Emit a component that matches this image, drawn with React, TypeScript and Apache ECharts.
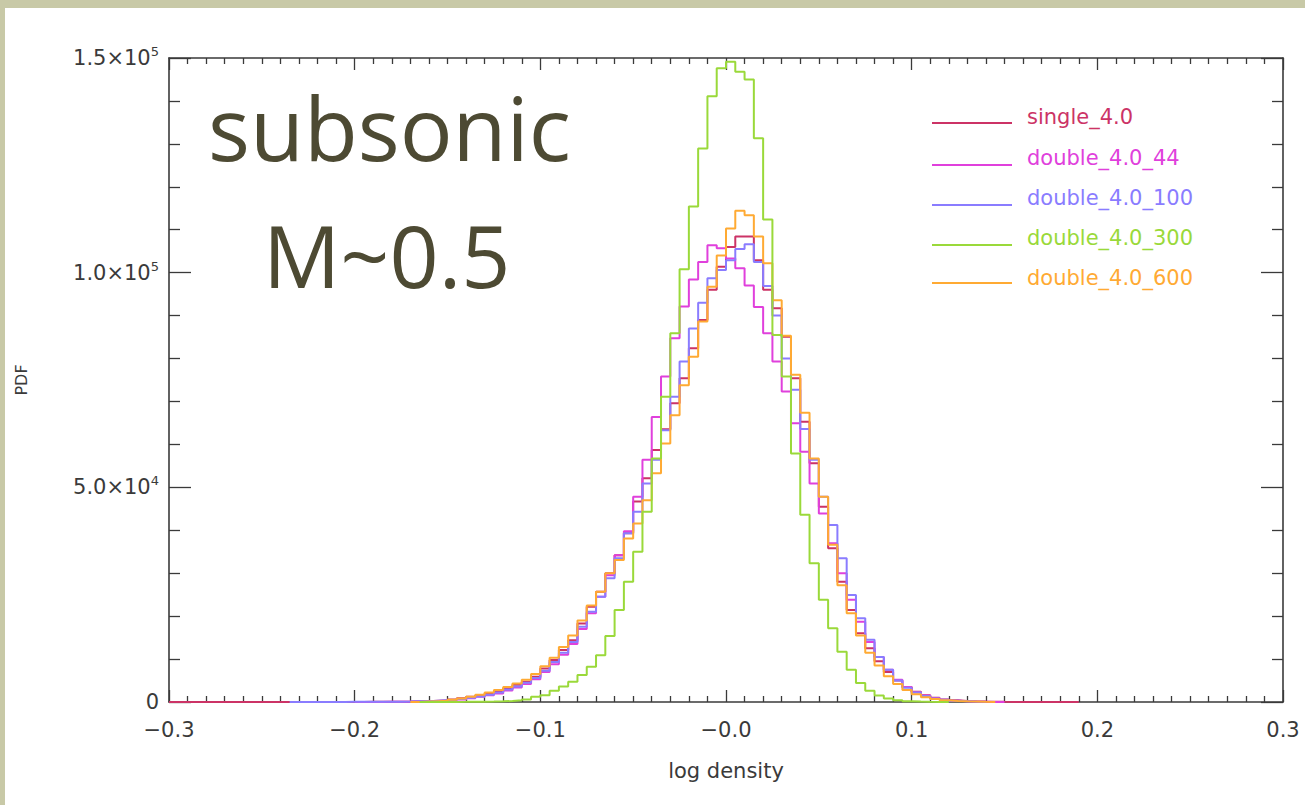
import React, { useEffect, useRef } from "react";
import * as echarts from "echarts";

// Histogram bin width in log density
const BIN_WIDTH = 0.005;

const seriesNames = ["single_4.0", "double_4.0_44", "double_4.0_100", "double_4.0_300", "double_4.0_600"];
const seriesColors = ["#cc3366", "#e040dc", "#8a7cff", "#9ad93a", "#ffaa33"];

// Left edge of first bin and bin values (PDF) for each series
const singleStart = -0.3;
const singleValues = [
  0, 0, 0, 0, 0, 0, 0, 0, 0, 0, 0, 0, 0, 0, 0, 0, 0, 0, 0, 0,
  20, 30, 40, 60, 80, 100, 150, 200, 300, 400, 600, 900, 1200, 1600, 2000, 2400, 3200, 4000, 4700, 5900,
  7800, 9800, 12100, 14400, 18300, 22200, 25700, 30000, 34200, 39300, 46700, 52100, 58700, 63500, 69600, 75400,
  82400, 89000, 96000, 101400, 106000, 108400, 108400, 102900, 96000, 91700, 85100, 75400, 65300, 55600, 45500,
  35800, 28000, 21400, 16000, 12500, 9500, 7000, 5000, 3500, 2400, 1600, 1000, 600, 400, 250, 150, 100, 60,
  30, 20, 10, 10, 0, 0, 0, 0, 0,
];

const d44Start = -0.2;
const d44Values = [
  0, 10, 20, 30, 40, 50, 100, 150, 200, 300, 400, 600, 900, 1200, 1600, 2000, 2700, 3400, 4200, 5300,
  7000, 8800, 11000, 13500, 17000, 20700, 24500, 29500, 34200, 39800, 47800, 56400, 66400, 75800, 84700, 92100,
  98400, 102500, 106400, 105700, 103300, 101000, 97000, 92000, 85900, 79300, 72300, 64900, 58300, 50900, 43900,
  37000, 30000, 23800, 18700, 14000, 10500, 7500, 5200, 3500, 2300, 1500, 900, 500, 300, 150, 100, 50, 0, 0,
];

const d100Start = -0.235;
const d100Values = [
  0, 0, 10, 10, 20, 20, 30, 30, 40, 50, 60, 80, 100, 150, 200, 300, 400, 500, 700, 1000,
  1300, 1700, 2200, 2900, 3600, 4500, 5600, 7300, 9300, 11500, 14000, 17500, 21000, 24500, 28800, 33500,
  39300, 44300, 50900, 56400, 63300, 71100, 79300, 87000, 93000, 98700, 100600, 102900, 105500, 106600, 102500,
  96900, 90000, 80000, 72700, 63600, 56400, 47800, 41200, 33500, 24900, 19500, 14500, 10500, 7500, 5000, 3300,
  2200, 1400, 800, 500, 300, 200, 100, 50,
];

const d300Start = -0.165;
const d300Values = [
  0, 0, 10, 20, 30, 50, 80, 100, 150, 250, 400, 600, 1200, 1600, 2600, 3600, 4700, 6300, 8200, 10900,
  15400, 21400, 28000, 35000, 44300, 56700, 71100, 85900, 100800, 115400, 128900, 141100, 147600, 149100, 146800,
  145000, 131300, 112400, 85500, 75800, 57900, 43600, 32300, 23800, 17200, 11700, 7500, 4400, 2600, 1500, 800,
  400, 200, 100, 50, 20, 0,
];

const d600Start = -0.17;
const d600Values = [
  0, 100, 200, 300, 500, 800, 1200, 1700, 2200, 2800, 3500, 4300, 5200, 6500, 8300, 10300, 12800, 15500, 19000,
  22500, 25700, 30000, 33100, 38100, 41600, 47000, 53300, 60200, 66800, 73800, 80400, 88600, 96700, 104000,
  110300, 114400, 113400, 108400, 102200, 93600, 85300, 76200, 67400, 56700, 47800, 36600, 27200, 20700, 15500,
  11500, 8500, 6000, 4200, 2800, 1800, 1100, 700, 400, 250, 150, 100, 50, 20,
];

const xTickLabels = ["\u22120.3", "\u22120.2", "\u22120.1", "\u22120.0", "0.1", "0.2", "0.3"];
const yTickLabels = ["0", "{m|5.0\u00d710}{s|4}", "{m|1.0\u00d710}{s|5}", "{m|1.5\u00d710}{s|5}"];

const FONT = "DejaVu Sans";
const AXIS_COLOR = "#3a3a3a";

function toSteps(start: number, values: number[]): number[][] {
  const pts: number[][] = values.map((v, i) => [Number((start + i * BIN_WIDTH).toFixed(4)), v]);
  const endEdge = Number((start + values.length * BIN_WIDTH).toFixed(4));
  pts.push([endEdge, 0]);
  return pts;
}

export default function App() {
  const ref = useRef<HTMLDivElement>(null);

  useEffect(() => {
    document.body.style.margin = "0";
    if (!ref.current) return;
    const chart = echarts.init(ref.current, undefined, { renderer: "svg" });

    const seriesData = [
      toSteps(singleStart, singleValues),
      toSteps(d44Start, d44Values),
      toSteps(d100Start, d100Values),
      toSteps(d300Start, d300Values),
      toSteps(d600Start, d600Values),
    ];
    // draw order: orange before green (green over orange on the baseline)
    const drawOrder = [0, 1, 2, 4, 3];

    const legendTop = [109, 150, 190, 230, 270];
    const legendLine = [115, 157, 197, 237, 275];
    const legendGraphics: any[] = [];
    seriesNames.forEach((name, i) => {
      legendGraphics.push({
        type: "line",
        shape: { x1: 927, y1: legendLine[i], x2: 1007, y2: legendLine[i] },
        style: { stroke: seriesColors[i], lineWidth: 2 },
      });
      legendGraphics.push({
        type: "text",
        x: 1022,
        y: legendTop[i],
        style: {
          text: name,
          fill: seriesColors[i],
          font: `21px "${FONT}"`,
          textAlign: "left",
          textVerticalAlign: "middle",
        },
      });
    });

    const tickLine = { color: AXIS_COLOR, width: 1.3 };

    chart.setOption({
      animation: false,
      backgroundColor: "#ffffff",
      grid: { left: 162, top: 50, right: 22, bottom: 103, containLabel: false },
      xAxis: [
        {
          type: "value",
          position: "bottom",
          min: -0.3,
          max: 0.3,
          interval: 0.1,
          splitLine: { show: false },
          axisLine: { show: true, onZero: false, lineStyle: { color: AXIS_COLOR, width: 1.6 } },
          axisTick: { show: true, inside: true, length: 12, lineStyle: tickLine },
          minorTick: { show: true, splitNumber: 10, length: 6, lineStyle: tickLine },
          axisLabel: {
            margin: 17,
            fontSize: 21,
            fontFamily: FONT,
            color: AXIS_COLOR,
            formatter: (_v: number, idx: number) => xTickLabels[idx] ?? "",
          },
          name: "log density",
          nameLocation: "middle",
          nameGap: 58,
          nameTextStyle: { fontSize: 21, fontFamily: FONT, color: AXIS_COLOR },
        },
        {
          type: "value",
          position: "top",
          min: -0.3,
          max: 0.3,
          interval: 0.1,
          splitLine: { show: false },
          axisLine: { show: true, onZero: false, lineStyle: { color: AXIS_COLOR, width: 1.6 } },
          axisTick: { show: true, inside: true, length: 12, lineStyle: tickLine },
          minorTick: { show: true, splitNumber: 10, length: 6, lineStyle: tickLine },
          axisLabel: { show: false },
        },
      ],
      yAxis: [
        {
          type: "value",
          position: "left",
          min: 0,
          max: 150000,
          interval: 50000,
          splitLine: { show: false },
          axisLine: { show: true, onZero: false, lineStyle: { color: AXIS_COLOR, width: 1.6 } },
          axisTick: { show: true, inside: true, length: 22, lineStyle: tickLine },
          minorTick: { show: true, splitNumber: 5, length: 11, lineStyle: tickLine },
          axisLabel: {
            margin: 10,
            color: AXIS_COLOR,
            fontFamily: FONT,
            fontSize: 21,
            formatter: (_v: number, idx: number) => yTickLabels[idx] ?? "",
            rich: {
              m: { fontSize: 21, fontFamily: FONT, color: AXIS_COLOR, lineHeight: 26 },
              s: { fontSize: 13, fontFamily: FONT, color: AXIS_COLOR, verticalAlign: "top", lineHeight: 15 },
            },
          },
          name: "PDF",
          nameLocation: "middle",
          nameRotate: 90,
          nameGap: 140,
          nameTextStyle: { fontSize: 16, fontFamily: FONT, color: AXIS_COLOR },
        },
        {
          type: "value",
          position: "right",
          min: 0,
          max: 150000,
          interval: 50000,
          splitLine: { show: false },
          axisLine: { show: true, onZero: false, lineStyle: { color: AXIS_COLOR, width: 1.6 } },
          axisTick: { show: true, inside: true, length: 22, lineStyle: tickLine },
          minorTick: { show: true, splitNumber: 5, length: 11, lineStyle: tickLine },
          axisLabel: { show: false },
        },
      ],
      series: drawOrder.map((i) => ({
        name: seriesNames[i],
        type: "line",
        step: "end",
        xAxisIndex: 0,
        yAxisIndex: 0,
        showSymbol: false,
        symbol: "none",
        data: seriesData[i],
        lineStyle: { color: seriesColors[i], width: 2 },
        itemStyle: { color: seriesColors[i] },
        z: 3,
      })),
      graphic: [
        {
          type: "text",
          x: 203,
          y: 119,
          style: {
            text: "subsonic",
            fill: "#4d4a33",
            font: '88px "Open Sans"',
            textAlign: "left",
            textVerticalAlign: "middle",
          },
        },
        {
          type: "text",
          x: 258,
          y: 246,
          style: {
            text: "M~0.5",
            fill: "#4d4a33",
            font: '86px "Open Sans"',
            textAlign: "left",
            textVerticalAlign: "middle",
          },
        },
        ...legendGraphics,
      ],
    });

    return () => chart.dispose();
  }, []);

  return (
    <div style={{ position: "relative", width: 1305, height: 805, background: "#c8c9a7", overflow: "hidden" }}>
      <div
        ref={ref}
        style={{ position: "absolute", left: 5, top: 8, width: 1300, height: 797, background: "#ffffff" }}
      />
    </div>
  );
}
